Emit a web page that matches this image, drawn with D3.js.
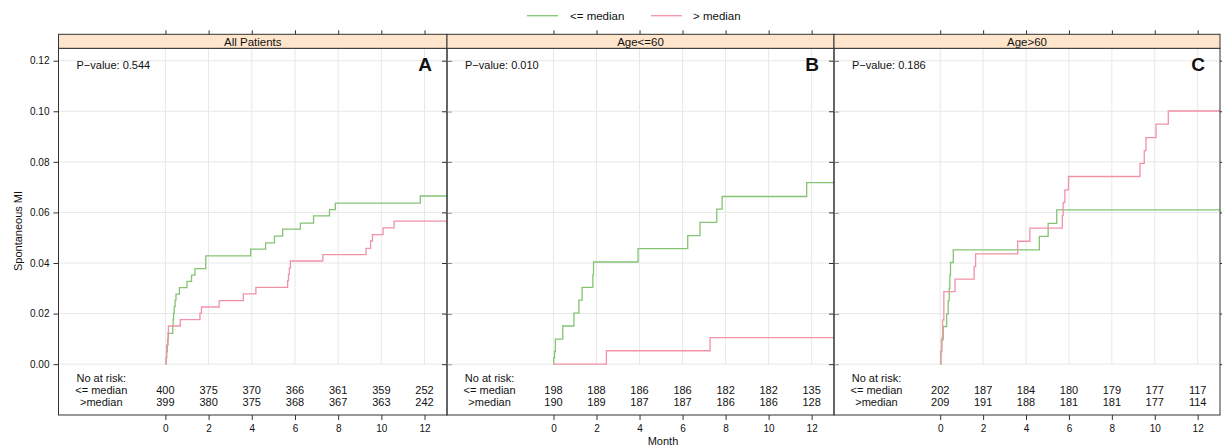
<!DOCTYPE html>
<html><head><meta charset="utf-8">
<script src="https://cdn.jsdelivr.net/npm/d3@7"></script>
<style>body{margin:0;background:#fff}svg{display:block}text{font-family:"Liberation Sans",Arial,Helvetica,sans-serif}</style>
</head><body>
<svg id="c" width="1222" height="447"></svg>
<script>
// ---------- data ----------
const panelTitles = ["All Patients", "Age<=60", "Age>60"];
const panelLetters = ["A", "B", "C"];
const pValues = ["0.544", "0.010", "0.186"];
const groupNames = ["<= median", "> median"];
const riskRowLabels = ["<= median", ">median"];
const xTicks = [0, 2, 4, 6, 8, 10, 12];
const yTicks = [0, 0.02, 0.04, 0.06, 0.08, 0.10, 0.12];
const yTickLabels = ["0.00", "0.02", "0.04", "0.06", "0.08", "0.10", "0.12"];

// cumulative incidence step functions: event times (months) and values
const aLowT = [0, 0.03, 0.06, 0.09, 0.12, 0.14, 0.34, 0.36, 0.38, 0.41, 0.45, 0.49, 0.65, 1.0, 1.21, 1.37, 1.87, 3.95, 4.64, 5.05, 5.43, 6.25, 6.86, 7.6, 7.87, 11.8];
const aLowV = [0, 0.0025, 0.005, 0.0075, 0.0100, 0.0122, 0.0150, 0.0176, 0.0202, 0.0228, 0.0253, 0.0277, 0.0303, 0.0327, 0.0352, 0.0378, 0.0428, 0.0455, 0.0480, 0.0506, 0.0534, 0.0558, 0.0586, 0.0611, 0.0637, 0.0665];
const aHighT = [0, 0.03, 0.05, 0.06, 0.10, 0.12, 0.14, 0.69, 1.6, 1.67, 2.49, 3.61, 4.19, 5.66, 5.70, 5.74, 5.79, 7.29, 9.29, 9.5, 9.59, 10.08, 10.59];
const aHighV = [0, 0.0025, 0.005, 0.0075, 0.0100, 0.0125, 0.0151, 0.0176, 0.0202, 0.0226, 0.0251, 0.0278, 0.0304, 0.0330, 0.0355, 0.0380, 0.0408, 0.0433, 0.0458, 0.0487, 0.0512, 0.0539, 0.0566];
const bLowT = [0, 0.01, 0.05, 0.09, 0.43, 0.95, 1.18, 1.33, 1.83, 1.86, 3.93, 6.24, 6.81, 7.59, 7.84, 11.77];
const bLowV = [0, 0.0025, 0.0050, 0.0099, 0.0151, 0.0202, 0.0253, 0.0304, 0.0353, 0.0404, 0.0457, 0.0508, 0.0561, 0.0613, 0.0663, 0.0718];
const bHighT = [0, 2.46, 7.28];
const bHighV = [0, 0.0053, 0.0105];
const cLowT = [0, 0.03, 0.06, 0.14, 0.30, 0.37, 0.42, 0.45, 0.48, 0.61, 4.62, 5.03, 5.43];
const cLowV = [0, 0.0050, 0.0096, 0.0149, 0.0199, 0.0250, 0.0300, 0.0352, 0.0402, 0.0452, 0.0505, 0.0557, 0.0610];
const cHighT = [0, 0.03, 0.08, 0.11, 0.17, 0.69, 1.58, 1.65, 3.61, 4.18, 5.69, 5.73, 5.81, 5.98, 9.31, 9.51, 9.59, 10.06, 10.63];
const cHighV = [0, 0.0050, 0.0105, 0.0175, 0.0287, 0.0336, 0.0386, 0.0436, 0.0486, 0.0538, 0.0587, 0.0639, 0.0689, 0.0742, 0.0794, 0.0844, 0.0896, 0.0949, 0.1001];

// numbers at risk at months 0,2,...,12
const aRiskLow = [400, 375, 370, 366, 361, 359, 252];
const aRiskHigh = [399, 380, 375, 368, 367, 363, 242];
const bRiskLow = [198, 188, 186, 186, 182, 182, 135];
const bRiskHigh = [190, 189, 187, 187, 186, 186, 128];
const cRiskLow = [202, 187, 184, 180, 179, 177, 117];
const cRiskHigh = [209, 191, 188, 181, 181, 177, 114];

const curves = [
  [[aLowT, aLowV], [aHighT, aHighV]],
  [[bLowT, bLowV], [bHighT, bHighV]],
  [[cLowT, cLowV], [cHighT, cHighV]]
];
const risks = [[aRiskLow, aRiskHigh], [bRiskLow, bRiskHigh], [cRiskLow, cRiskHigh]];

// ---------- layout ----------
const colors = ["#84c473", "#f193a6"];
const borders = [58.5, 447, 834, 1220];
const plotTop = 48.3, plotBottom = 415, stripTop = 34.3;
const xDomain = [-4.95, 13.04];
const svg = d3.select("#c");
const y = d3.scaleLinear().domain([-0.0201, 0.1249]).range([plotBottom, plotTop]);
const gridC = "#e8e8e8", axisC = "#333";

// legend
const leg = svg.append("g");
[[527, 570], [651, 693]].forEach((p, i) => {
  leg.append("line").attr("x1", p[0]).attr("x2", p[0] + 31).attr("y1", 15.7).attr("y2", 15.7)
    .attr("stroke", colors[i]).attr("stroke-width", 1.3);
  leg.append("text").attr("x", p[1]).attr("y", 20).attr("font-size", 11.5).attr("fill", "#111").text(groupNames[i]);
});

const defs = svg.append("defs");

panelTitles.forEach((title, pi) => {
  const L = borders[pi], R = borders[pi + 1];
  const x = d3.scaleLinear().domain(xDomain).range([L, R]);
  const g = svg.append("g");
  defs.append("clipPath").attr("id", "clip" + pi).append("rect")
    .attr("x", L).attr("y", plotTop).attr("width", R - L).attr("height", plotBottom - plotTop);

  // grid
  g.selectAll(".hg").data(yTicks).join("line")
    .attr("x1", L).attr("x2", R).attr("y1", d => y(d)).attr("y2", d => y(d))
    .attr("stroke", gridC).attr("stroke-width", 1);
  g.selectAll(".vg").data(xTicks).join("line")
    .attr("x1", d => x(d)).attr("x2", d => x(d)).attr("y1", plotTop).attr("y2", y(0))
    .attr("stroke", gridC).attr("stroke-width", 1);

  // curves
  const line = d3.line().x(d => x(d[0])).y(d => y(d[1])).curve(d3.curveStepAfter);
  curves[pi].forEach((c, gi) => {
    const pts = c[0].map((t, i) => [t, c[1][i]]);
    pts.push([xDomain[1] + 1, c[1][c[1].length - 1]]);
    g.append("path").attr("d", line(pts)).attr("fill", "none")
      .attr("stroke", colors[gi]).attr("stroke-width", 1.3).attr("clip-path", `url(#clip${pi})`);
  });

  // p-value & letter
  g.append("text").attr("x", L + 18).attr("y", 69).attr("font-size", 11).attr("fill", "#111").text("P\u2212value: " + pValues[pi]);
  g.append("text").attr("x", R - 15).attr("y", 71).attr("font-size", 19).attr("font-weight", "bold")
    .attr("text-anchor", "end").attr("fill", "#111").text(panelLetters[pi]);

  // risk table
  const lx = x(-2.97);
  g.append("text").attr("x", lx).attr("y", 381.5).attr("text-anchor", "middle").attr("font-size", 11).attr("fill", "#111").text("No at risk:");
  riskRowLabels.forEach((lab, ri) => {
    const yy = 394 + ri * 12.3;
    g.append("text").attr("x", lx).attr("y", yy).attr("text-anchor", "middle").attr("font-size", 11).attr("fill", "#111").text(lab);
    g.selectAll(".r" + ri).data(risks[pi][ri]).join("text")
      .attr("x", (d, i) => x(xTicks[i])).attr("y", yy).attr("text-anchor", "middle")
      .attr("font-size", 11).attr("fill", "#111").text(d => d);
  });

  // border
  g.append("rect").attr("x", L).attr("y", plotTop).attr("width", R - L).attr("height", plotBottom - plotTop)
    .attr("fill", "none").attr("stroke", axisC).attr("stroke-width", 1);

  // strip
  g.append("rect").attr("x", L).attr("y", stripTop).attr("width", R - L).attr("height", plotTop - stripTop)
    .attr("fill", "#ffe5cc").attr("stroke", axisC).attr("stroke-width", 1);
  g.append("text").attr("x", (L + R) / 2).attr("y", 45.5).attr("text-anchor", "middle")
    .attr("font-size", 11.5).attr("fill", "#111").text(title);

  // bottom axis
  const bAxis = d3.axisBottom(x).tickValues(xTicks).tickSize(5).tickPadding(5).tickFormat(d3.format("d"));
  const ba = g.append("g").attr("transform", `translate(0,${plotBottom})`).call(bAxis);
  ba.select(".domain").remove();
  ba.selectAll("line").attr("stroke", axisC);
  ba.selectAll("text").attr("font-size", 10).attr("fill", "#111").attr("font-family", '"Liberation Sans",Arial,sans-serif');

  // top ticks
  const tAxis = d3.axisTop(x).tickValues(xTicks).tickSize(4).tickFormat("");
  const ta = g.append("g").attr("transform", `translate(0,${stripTop})`).call(tAxis);
  ta.select(".domain").remove();
  ta.selectAll("line").attr("stroke", axisC);

  // left / right ticks
  const lAxis = d3.axisLeft(y).tickValues(yTicks).tickSize(5).tickPadding(4)
    .tickFormat((d, i) => pi === 0 ? yTickLabels[i] : "");
  const la = g.append("g").attr("transform", `translate(${L},0)`).call(lAxis);
  la.select(".domain").remove();
  la.selectAll("line").attr("stroke", axisC);
  la.selectAll("text").attr("font-size", 10).attr("fill", "#111").attr("font-family", '"Liberation Sans",Arial,sans-serif');
  const rAxis = d3.axisRight(y).tickValues(yTicks).tickSize(5).tickFormat("");
  const ra = g.append("g").attr("transform", `translate(${R},0)`).call(rAxis);
  ra.select(".domain").remove();
  ra.selectAll("line").attr("stroke", axisC);
});

// axis titles
svg.append("text").attr("transform", "translate(22,231) rotate(-90)").attr("text-anchor", "middle")
  .attr("font-size", 11).attr("fill", "#111").text("Spontaneous MI");
svg.append("text").attr("x", 663).attr("y", 445).attr("text-anchor", "middle")
  .attr("font-size", 11).attr("fill", "#111").text("Month");
</script>
</body></html>
